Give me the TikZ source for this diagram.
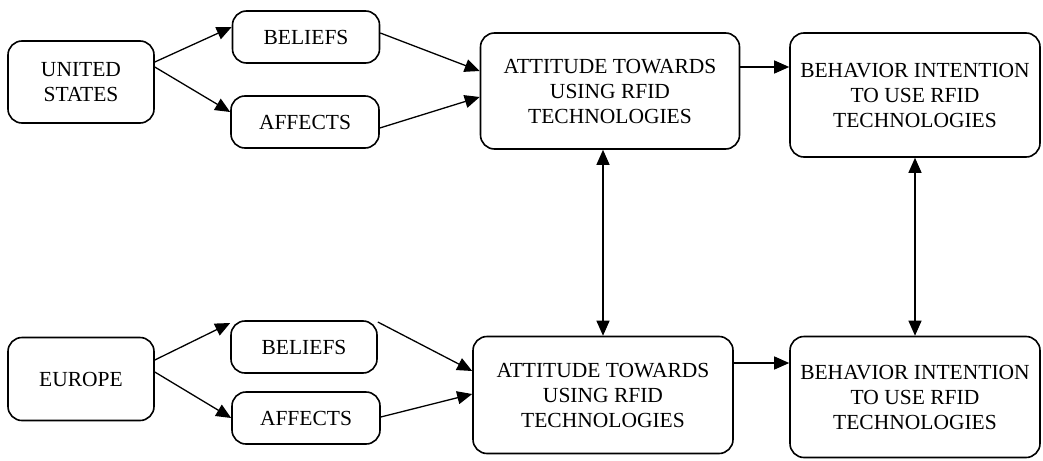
\documentclass[tikz,border=0pt]{standalone}
\usepackage{fontspec}
\setmainfont{Liberation Serif}
\usetikzlibrary{arrows.meta}
\tikzset{
  box/.style={rectangle, draw=black, line width=1.6pt, rounded corners=14pt, align=center, inner sep=0pt,
    font=\fontsize{21.5}{25}\selectfont},
  arr/.style={line width=1.3pt, -{Triangle[length=15pt,width=13pt]}},
  dblarr/.style={line width=1.3pt, {Triangle[length=15pt,width=13pt]}-{Triangle[length=15pt,width=13pt]}}
}
\begin{document}
\begin{tikzpicture}[x=1pt,y=-1pt]
\useasboundingbox (0,0) rectangle (1043,460);

\node[box, minimum width=146pt, minimum height=82pt] (us) at (81,82) {UNITED\\STATES};
\node[box, minimum width=147pt, minimum height=52pt] (belus) at (306,37) {BELIEFS};
\node[box, minimum width=148pt, minimum height=52pt] (affus) at (305,122) {AFFECTS};
\node[box, minimum width=259pt, minimum height=116pt] (attus) at (610,91) {ATTITUDE TOWARDS\\USING RFID\\TECHNOLOGIES};
\node[box, minimum width=250pt, minimum height=124pt] (behus) at (915,95) {BEHAVIOR INTENTION\\TO USE RFID\\TECHNOLOGIES};

\node[box, minimum width=146pt, minimum height=83pt] (eu) at (81,379) {EUROPE};
\node[box, minimum width=146pt, minimum height=52pt] (beleu) at (304,347) {BELIEFS};
\node[box, minimum width=148pt, minimum height=52pt] (affeu) at (306,418) {AFFECTS};
\node[box, minimum width=260pt, minimum height=117pt] (atteu) at (603,395) {ATTITUDE TOWARDS\\USING RFID\\TECHNOLOGIES};
\node[box, minimum width=250pt, minimum height=121pt] (beheu) at (915,397) {BEHAVIOR INTENTION\\TO USE RFID\\TECHNOLOGIES};

\draw[arr] ([yshift=20pt]us.east) -- ([yshift=10pt]belus.west);
\draw[arr] ([yshift=15pt]us.east) -- ([yshift=10pt]affus.west);
\draw[arr] ([yshift=4pt]belus.east) -- ([yshift=20pt]attus.west);
\draw[arr] ([yshift=-6pt]affus.east) -- ([yshift=-6pt]attus.west);
\draw[arr] ([yshift=24pt]attus.east) -- ([yshift=24pt]attus.east -| behus.west);

\draw[arr] ([yshift=19pt]eu.east) -- ([yshift=24pt]beleu.west);
\draw[arr] ([yshift=7pt]eu.east) -- (affeu.west);
\draw[arr] ([yshift=25pt]beleu.east) -- ([yshift=24pt]atteu.west);
\draw[arr] ([yshift=1pt]affeu.east) -- ([yshift=1pt]atteu.west);
\draw[arr] ([yshift=32pt]atteu.east) -- ([yshift=32pt]atteu.east -| beheu.west);

\draw[dblarr] (atteu.north |- attus.south) -- (atteu.north);
\draw[dblarr] (beheu.north |- behus.south) -- (beheu.north);
\end{tikzpicture}
\end{document}
